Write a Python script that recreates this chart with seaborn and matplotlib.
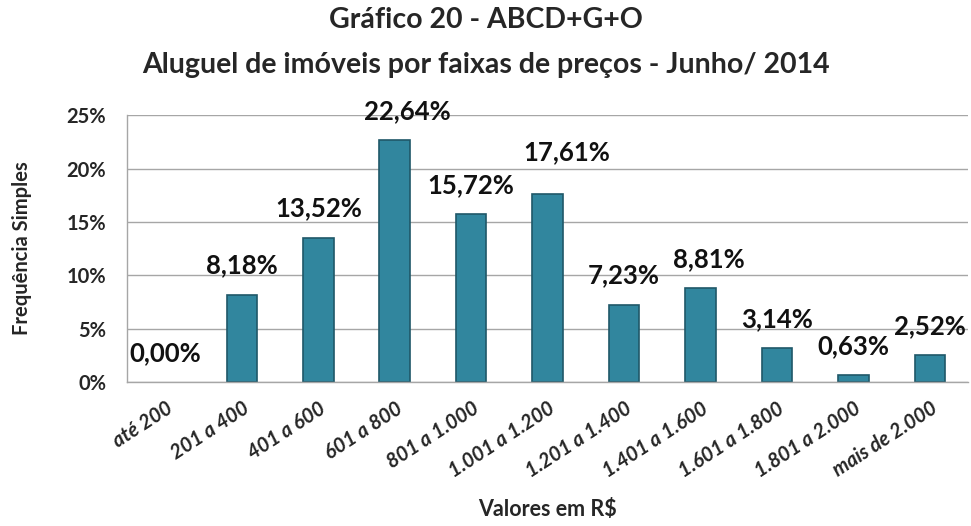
import matplotlib
matplotlib.use("Agg")
import matplotlib.pyplot as plt
import seaborn as sns
import pandas as pd
from matplotlib.ticker import PercentFormatter, FixedLocator

# faixas de preço e frequências (%)
faixas = ["até 200", "201 a 400", "401 a 600", "601 a 800", "801 a 1.000",
          "1.001 a 1.200", "1.201 a 1.400", "1.401 a 1.600", "1.601 a 1.800",
          "1.801 a 2.000", "mais de 2.000"]
freq = [0.00, 8.18, 13.52, 22.64, 15.72, 17.61, 7.23, 8.81, 3.14, 0.63, 2.52]
rotulos = ["0,00%", "8,18%", "13,52%", "22,64%", "15,72%", "17,61%",
           "7,23%", "8,81%", "3,14%", "0,63%", "2,52%"]

df = pd.DataFrame({"faixa": faixas, "freq": freq})

sns.set_style("white")
plt.rcParams["font.family"] = ["Lato", "DejaVu Sans"]

fig = plt.figure(figsize=(9.71, 5.26), dpi=100)
ax = fig.add_axes([0.131, 0.274, 0.866, 0.507])

sns.barplot(data=df, x="faixa", y="freq", color="#31869E", width=0.4,
            edgecolor="#1F5868", linewidth=1.2, saturation=1, ax=ax)
for p in ax.patches:
    if p.get_height() == 0:
        p.set_visible(False)

# rótulos movidos à mão como no original (pontos)
desloc = [(0, 0), (0, 0), (0, 0), (9, 0), (0, 0), (14, 9),
          (0, 0), (6, 0), (0, 0), (0, 0), (0, 0)]
for i, (v, lab) in enumerate(zip(freq, rotulos)):
    dx, dy = desloc[i]
    ax.annotate(lab, (i, v), xytext=(dx, 21 + dy), textcoords="offset points",
                ha="center", va="center", fontsize=18.5, fontweight="bold",
                color="#111111", annotation_clip=False)

ax.set_ylim(0, 25)
ax.set_xlim(-0.5, len(faixas) - 0.5)
ax.yaxis.set_major_locator(FixedLocator([0, 5, 10, 15, 20, 25]))
ax.yaxis.set_major_formatter(PercentFormatter(decimals=0))
ax.grid(axis="y", color="#A6A6A6", linewidth=1)
ax.set_axisbelow(True)

for s in ["top", "right"]:
    ax.spines[s].set_visible(False)
for s in ["left", "bottom"]:
    ax.spines[s].set_color("#A6A6A6")
    ax.spines[s].set_linewidth(1)

# marcas entre as categorias
ax.set_xticks([i - 0.5 for i in range(len(faixas) + 1)], minor=True)
ax.tick_params(axis="x", which="minor", length=6, color="#A6A6A6", width=1)
ax.tick_params(axis="x", which="major", length=0, pad=12)
ax.tick_params(axis="y", length=6, color="#A6A6A6", pad=9)

ax.set_xticks(range(len(faixas)))
ax.set_xticklabels(faixas, rotation=33, ha="right", rotation_mode="anchor",
                   fontsize=14.5, fontweight="bold", fontstyle="italic")
for t in ax.get_yticklabels():
    t.set_fontsize(14.5)
    t.set_fontweight("bold")

ax.set_xlabel("Valores em R$", fontsize=15.5, fontweight="bold", va="center")
ax.xaxis.set_label_coords(0.5, -0.48)
ax.set_ylabel("Frequência Simples", fontsize=14.5, fontweight="bold", va="center")
ax.yaxis.set_label_coords(-0.125, 0.5)

fig.text(0.5, 0.962, "Gráfico 20 - ABCD+G+O", ha="center", va="center",
         fontsize=20.5, fontweight="bold")
fig.text(0.5, 0.876, "Aluguel de imóveis por faixas de preços - Junho/ 2014",
         ha="center", va="center", fontsize=20.5, fontweight="bold")

fig.savefig("out.png", dpi=100)
